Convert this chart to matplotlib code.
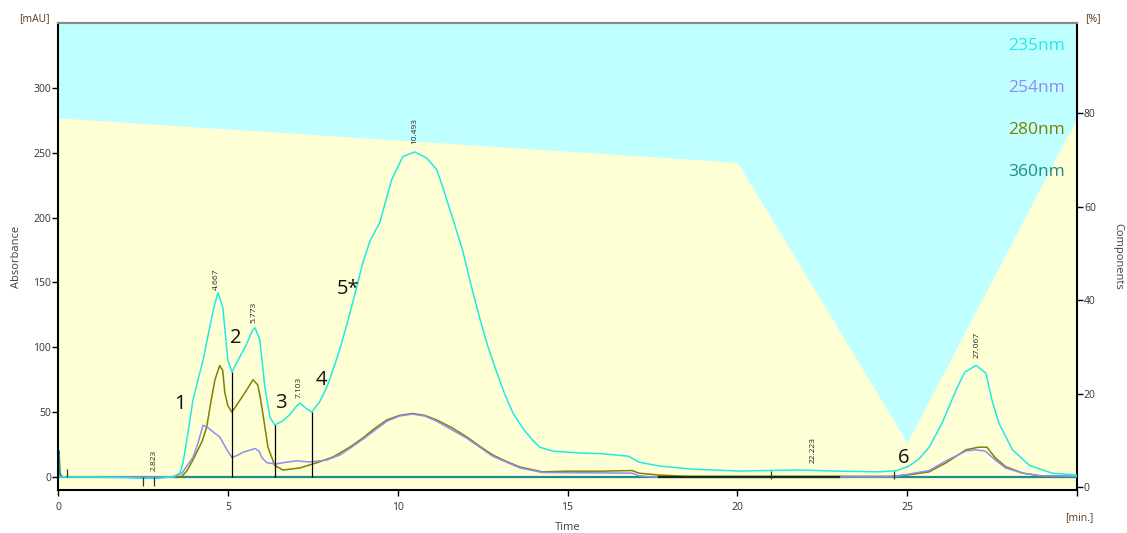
import numpy as np
import matplotlib.pyplot as plt

# ---- data ----
grad_t = [0, 20, 25, 30]
grad_pct = [79, 69.5, 9.5, 79]

t235 = [0, 1, 2, 2.5, 3, 3.4, 3.59, 3.68, 3.8, 3.97, 4.12, 4.27, 4.47, 4.6, 4.71,
        4.85, 5.0, 5.12, 5.3, 5.56, 5.72, 5.8, 5.94, 6.09, 6.24, 6.38, 6.6, 6.82,
        7.0, 7.12, 7.3, 7.47, 7.7, 7.91, 8.1, 8.29, 8.55, 8.79, 8.97, 9.2, 9.47,
        9.82, 10.15, 10.5, 10.85, 11.15, 11.32, 11.6, 11.91, 12.15, 12.41, 12.65,
        12.9, 13.15, 13.4, 13.7, 13.97, 14.18, 14.56, 15.35, 16.0, 16.8, 17.1,
        17.7, 18.7, 20.06, 21.8, 23.0, 24.2, 24.7, 25.06, 25.35, 25.65, 26.03,
        26.44, 26.7, 27.03, 27.32, 27.5, 27.7, 28.1, 28.6, 29.26, 30]
a235 = [0, 0, -0.5, -1, -1, 0.5, 3, 11, 30, 59, 75, 90, 116, 132, 142,
        131, 90, 81, 90, 103, 113, 115, 106, 69, 46, 40, 43, 48,
        54, 57, 53, 50, 58, 69, 83, 98, 122, 146, 165, 183, 196,
        229, 247, 250.6, 246, 237, 224, 201, 175, 149, 123, 101,
        82, 64, 49, 37, 28.5, 23, 20, 18.5, 18, 16, 11.5,
        8.5, 6, 4.6, 5.4, 4.5, 4, 5, 8.5, 14, 23, 41.6,
        67, 81, 86, 80, 59, 41.6, 21, 9, 3, 1.5]

t254 = [0, 3.4, 3.65, 3.97, 4.12, 4.27, 4.41, 4.6, 4.76, 4.95, 5.12, 5.3, 5.44,
        5.8, 5.92, 6.0, 6.15, 6.4, 6.62, 7.03, 7.4, 7.9, 8.3, 8.59, 8.97, 9.68,
        10.05, 10.44, 10.8, 11.15, 12.03, 12.8, 13.6, 14.26, 16.9, 17.1, 17.5,
        24.5, 25.0, 25.65, 26.15, 26.73, 27.0, 27.3, 27.6, 27.9, 28.4, 28.9, 30]
a254 = [0, 0, 3, 15, 26, 40, 38, 34, 31, 22, 15, 17, 19,
        22, 20, 15, 11, 10, 11, 12.5, 11.6, 13, 17, 22, 29, 43,
        47, 48.5, 47, 43, 30, 16, 7, 3.5, 3, 1, 0,
        0, 2, 5, 12.5, 20, 21, 20, 13, 7, 3, 1, 0.5]

t280 = [0, 3.4, 3.65, 3.8, 3.97, 4.12, 4.25, 4.38, 4.5, 4.62, 4.76, 4.85, 4.91,
        5.0, 5.12, 5.35, 5.55, 5.74, 5.88, 5.95, 6.03, 6.18, 6.38, 6.62, 7.12,
        7.62, 8.1, 8.59, 8.97, 9.3, 9.68, 10.05, 10.44, 10.8, 11.15, 11.6, 12.03,
        12.4, 12.8, 13.2, 13.6, 14.26, 15, 16, 16.9, 17.1, 17.7, 18.5, 24.5,
        25.0, 25.65, 26.15, 26.73, 27.1, 27.35, 27.6, 27.9, 28.4, 28.9, 30]
a280 = [0, 0, 0.5, 5, 13, 21, 28, 39, 58, 75, 86, 82, 65,
        55, 50, 59, 67, 75, 71, 62, 49, 23, 9, 5.4, 7,
        11, 15.5, 23, 30, 37, 44, 47.5, 49, 47.5, 44, 38, 31,
        24, 17, 12, 7.7, 4, 4.5, 4.5, 5, 3, 1.5, 0.5, 0.5,
        1.5, 4, 11, 21, 23, 23, 14.6, 8, 3, 1, 0.5]

t360 = [0, 0.02, 0.05, 0.1, 30]
a360 = [0, 20, 3, 0, 0]

rt_labels = ['2.823', '4.667', '5.773', '7.103', '10.493', '22.223', '27.067']
rt_x = [2.823, 4.667, 5.773, 7.103, 10.493, 22.223, 27.067]
rt_y = [5, 144, 119, 61, 257, 11, 92]

peak_names = ['1', '2', '3', '4', '5*', '6']
peak_x = [3.59, 5.24, 6.56, 7.76, 8.55, 24.9]
peak_y = [56, 107, 57, 75, 145, 15]

split_x = [5.12, 6.38, 7.47]
split_top = [81, 40, 50]

channels = ['235nm', '254nm', '280nm', '360nm']
ch_colors = ['#22E8E8', '#8C8CF5', '#808000', '#1E8C8C']

# ---- figure ----
plt.rcParams['font.family'] = ['Open Sans', 'DejaVu Sans']
fig = plt.figure(figsize=(11.27, 5.33), dpi=100)
ax = fig.add_axes([0.0515, 0.0807, 0.9041, 0.8761])
ax2 = ax.twinx()
ax.set_zorder(ax2.get_zorder() + 1)
ax.patch.set_visible(False)

# gradient background (right axis, %)
ax2.patch.set_visible(True)
ax2.set_facecolor('#C0FFFF')
ax2.fill_between(grad_t, grad_pct, -5, color='#FFFFD6', lw=0)
ax2.set_ylim(-0.64, 99.3)
ax2.set_yticks([0, 20, 40, 60, 80])

# traces
ax.plot(t360, a360, color=ch_colors[3], lw=1.6)
ax.plot(t280, a280, color=ch_colors[2], lw=1.1)
ax.plot(t254, a254, color=ch_colors[1], lw=1.1)
ax.plot(t235, a235, color=ch_colors[0], lw=1.1)
ax.plot([17.7, 23.0], [-0.3, -0.3], color='#1a2a1a', lw=1.6)

# peak separators and integration marks
ax.vlines(split_x, 0, split_top, color='black', lw=0.9)
ax.vlines([0.26], 0, 6, color='#333333', lw=0.9)
ax.vlines([2.5, 2.823], -7, 0, color='#333333', lw=0.9)
ax.vlines([21.0, 24.6], -1.5, 5, color='#333333', lw=0.9)

for lab, x, y in zip(rt_labels, rt_x, rt_y):
    ax.text(x, y, lab, rotation=90, ha='center', va='bottom', fontsize=6,
            color='#222222')
for lab, x, y in zip(peak_names, peak_x, peak_y):
    ax.text(x, y, lab, ha='center', va='center', fontsize=14.5, color='#111111')

for i, (ch, c) in enumerate(zip(channels, ch_colors)):
    ax.text(0.988, 0.95 - i * 0.0895, ch, transform=ax.transAxes, ha='right',
            va='center', fontsize=12.5, color=c)

ax.set_xlim(0, 30)
ax.set_ylim(-10, 350)
ax.set_xticks([0, 5, 10, 15, 20, 25, 30])
ax.set_xticklabels(['0', '5', '10', '15', '20', '25', ''])
ax.set_yticks([0, 50, 100, 150, 200, 250, 300])

for a in (ax, ax2):
    a.tick_params(labelsize=7.5, labelcolor='#333333', length=4, width=1,
                  color='black', pad=1)
    a.spines['top'].set_color('#888888')
    a.spines['top'].set_linewidth(1.5)
ax.spines['left'].set_linewidth(1.5)
ax.spines['bottom'].set_linewidth(1.5)
ax.spines['right'].set_visible(False)
ax2.spines['left'].set_visible(False)
ax2.spines['bottom'].set_visible(False)
ax2.spines['right'].set_linewidth(1.5)
ax.tick_params(axis='x', pad=5)
ax2.tick_params(axis='y', pad=1)

ax.set_xlabel('Time', fontsize=8, color='#404040', labelpad=6)
ax.set_ylabel('Absorbance', fontsize=8, color='#404040', labelpad=8)
ax2.set_ylabel('Components', fontsize=8, color='#404040', rotation=270,
               labelpad=20)

fig.text(50 / 1127, 1 - 19 / 533, '[mAU]', ha='right', va='center',
         fontsize=7.5, color='#5a3a1a')
fig.text(1085 / 1127, 1 - 19 / 533, '[%]', ha='left', va='center',
         fontsize=7.5, color='#5a3a1a')
fig.text(1093 / 1127, 1 - 518 / 533, '[min.]', ha='right', va='center',
         fontsize=7.5, color='#5a3a1a')

fig.savefig('out.png', dpi=100)
